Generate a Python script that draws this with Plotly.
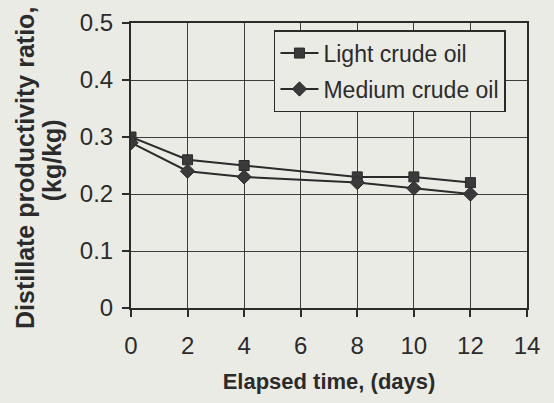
import plotly.graph_objects as go

# Elapsed time (days) at which samples were taken
days = [0, 2, 4, 8, 10, 12]

# Distillate productivity ratio (kg/kg)
light_crude = [0.30, 0.26, 0.25, 0.23, 0.23, 0.22]
medium_crude = [0.29, 0.24, 0.23, 0.22, 0.21, 0.20]

x_ticks = [0, 2, 4, 6, 8, 10, 12, 14]
y_ticks = [0, 0.1, 0.2, 0.3, 0.4, 0.5]

# Vertical axis title, one annotation per line
y_title_lines = ["Distillate productivity ratio,", "(kg/kg)"]

ink = "#2b2b2b"
paper = "#ebebe6"
font_family = "Liberation Sans, Arial, sans-serif"

fig = go.Figure()
fig.add_trace(go.Scatter(
    x=days, y=light_crude, name="Light crude oil", mode="lines+markers",
    legendgroup="a",
    line=dict(color=ink, width=2),
    marker=dict(symbol="square", size=10, color="#3a3a3a", line=dict(color=ink, width=1)),
))
fig.add_trace(go.Scatter(
    x=days, y=medium_crude, name="Medium crude oil", mode="lines+markers",
    legendgroup="b",
    line=dict(color=ink, width=2),
    marker=dict(symbol="diamond", size=11, color="#3a3a3a", line=dict(color=ink, width=1)),
))

fig.update_layout(
    width=554, height=403,
    margin=dict(l=131, r=27, t=23, b=95),
    paper_bgcolor=paper, plot_bgcolor=paper,
    font=dict(family=font_family, size=18, color=ink),
    showlegend=True,
    legend=dict(
        x=0.361, y=0.975, xanchor="left", yanchor="top",
        bgcolor=paper, bordercolor=ink, borderwidth=1.5,
        font=dict(size=23, color=ink),
        traceorder="grouped", tracegroupgap=3,
        itemwidth=38,
    ),
    xaxis=dict(
        range=[0, 14], tickvals=x_ticks, ticktext=[str(v) for v in x_ticks],
        tickfont=dict(size=24, color=ink),
        showgrid=True, gridcolor="#3c3c3c", gridwidth=1.4,
        showline=True, linecolor=ink, linewidth=2, mirror=True,
        ticks="outside", ticklen=7, tickwidth=1.5, tickcolor=ink,
        ticklabelstandoff=8,
        zeroline=False, automargin=False,
        title=dict(text="<b>Elapsed time, (days)</b>", font=dict(size=22, color=ink), standoff=16),
    ),
    yaxis=dict(
        range=[0, 0.5], tickvals=y_ticks, ticktext=["0", "0.1", "0.2", "0.3", "0.4", "0.5"],
        tickfont=dict(size=24, color=ink),
        showgrid=True, gridcolor="#3c3c3c", gridwidth=1.4,
        showline=True, linecolor=ink, linewidth=2, mirror=True,
        ticks="outside", ticklen=7, tickwidth=1.5, tickcolor=ink,
        ticklabelstandoff=4,
        zeroline=False, automargin=False,
    ),
)

for text, xp, yp in zip(y_title_lines, [-0.268, -0.199], [0.491, 0.519]):
    fig.add_annotation(
        text=f"<b>{text}</b>", xref="paper", yref="paper", x=xp, y=yp,
        xanchor="center", yanchor="middle", textangle=-90, showarrow=False,
        font=dict(size=25, color=ink, family=font_family),
    )

fig.write_html("out.html")
